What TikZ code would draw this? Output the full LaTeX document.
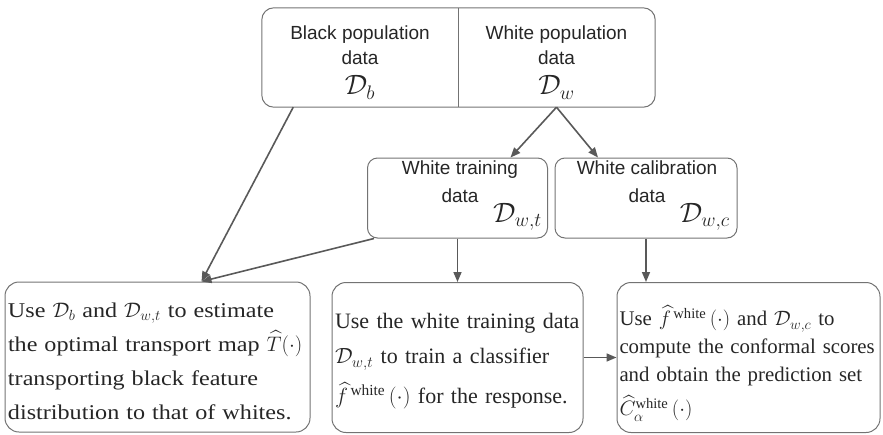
\RequirePackage{fix-cm}
\documentclass[tikz,border=0pt]{standalone}
\usepackage{amsmath}
\usepackage{fontspec}
\setmainfont{Liberation Serif}
\newfontfamily\sansfont{Liberation Sans}
\newfontfamily\widefont[FakeStretch=1.15]{Liberation Serif}
\usetikzlibrary{arrows.meta,calc}

\tikzset{
  boxline/.style={draw=black!55, line width=1pt},
  flow/.style={draw=black!65, line width=1.6pt, -{Triangle[length=10pt,width=8pt]}},
  popbox/.style={minimum width=196pt, minimum height=99pt, inner sep=0pt, align=center,
    text=black!85, font=\sansfont\fontsize{19}{25}\selectfont},
  databox/.style={boxline, rounded corners=10pt, minimum width=180pt, minimum height=80pt},
  datatxt/.style={align=center, inner sep=0pt, text=black!85, font=\sansfont\fontsize{19}{27.5}\selectfont},
  bigD/.style={inner sep=0pt, text=black!85, font=\fontsize{28}{28}\selectfont},
  usebox/.style={boxline, rounded corners=14pt, align=left, minimum height=150pt, text=black!85}
}

\begin{document}
\begin{tikzpicture}[x=1pt,y=-1pt]
  \useasboundingbox (0,0) rectangle (883,434);
  % population data
  \node[popbox] (blk) at (360,57.5) {\rule{0pt}{24pt}Black population\\data\\[5pt]{\fontsize{28}{28}\selectfont$\mathcal{D}_b$}};
  \node[popbox, minimum width=197pt] (wht) at (556.5,57.5) {\rule{0pt}{24pt}White population\\data\\[5pt]{\fontsize{28}{28}\selectfont$\mathcal{D}_w$}};
  \draw[boxline, rounded corners=12pt] (blk.north west) rectangle (wht.south east);
  \draw[boxline] (blk.north east) -- (blk.south east);
  % training / calibration split
  \node[databox] (train) at (457.5,198) {};
  \node[databox, minimum width=182pt] (calib) at (646,198) {};
  \node[datatxt, anchor=north] (trainT) at (460,161) {White training\\data};
  \node[datatxt, anchor=north] (calibT) at (647,161) {White calibration\\data};
  \node[bigD, anchor=base east] (trainD) at (542,222) {$\mathcal{D}_{w,t}$};
  \node[bigD, anchor=base east] (calibD) at (730,222) {$\mathcal{D}_{w,c}$};
  % steps
  \node[usebox, text width=299pt, inner sep=3pt, font=\widefont\fontsize{21}{34}\selectfont] (use1) at (157.5,357)
    {\rule{0pt}{23pt}Use $\mathcal{D}_b$ and $\mathcal{D}_{w,t}$ to estimate\\ the optimal transport map $\widehat{T}(\cdot)$\\ transporting black feature\\ distribution to that of whites.};
  \node[usebox, text width=245pt, inner sep=3pt, font=\fontsize{22}{35}\selectfont] (use2) at (457.5,357.5)
    {\rule{0pt}{23pt}Use the white training data\\ $\mathcal{D}_{w,t}$ to train a classifier\\[5pt] $\widehat{f}^{\,\text{white}}\,(\cdot)$ for the response.};
  \node[usebox, text width=258pt, inner sep=2.5pt, font=\fontsize{20.8}{28}\selectfont] (use3) at (748.5,357.5)
    {\rule{0pt}{32pt}Use $\widehat{f}^{\,\text{white}}\,(\cdot)$ and $\mathcal{D}_{w,c}$ to\\ compute the conformal scores\\ and obtain the prediction set\\[6pt] $\widehat{C}_{\alpha}^{\text{white}}\,(\cdot)$};
  % arrows
  \coordinate (hit) at ($(use1.north)+(44,0)$);
  \draw[flow] ($(blk.south west)!0.16!(blk.south east)$) -- (hit);
  \draw[flow] ($(train.south west)+(7,0)$) -- (hit);
  \draw[flow] (wht.south) -- ($(train.north)+(53,0)$);
  \draw[flow] (wht.south) -- ($(calib.north)+(-48,0)$);
  \draw[flow] (train.south) -- (use2.north);
  \draw[flow] (calib.south) -- (calib.south |- use3.north);
  \draw[flow] (use2.east) -- (use3.west);
\end{tikzpicture}
\end{document}
